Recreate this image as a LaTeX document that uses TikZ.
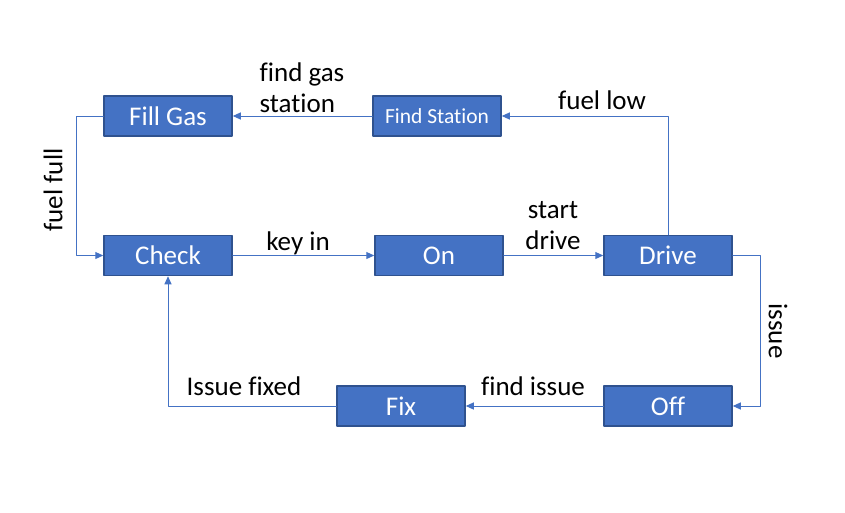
\documentclass[tikz,border=0pt]{standalone}
\usepackage{fontspec}
\setmainfont[RawFeature={-liga}]{Carlito}
\usetikzlibrary{arrows.meta}
\definecolor{fsmFill}{HTML}{4472C4}
\definecolor{fsmEdge}{HTML}{2F528F}
\definecolor{fsmLine}{HTML}{4472C4}
\tikzset{
  fsm diagram/.style={x=1pt, y=-1pt, font=\fontsize{27}{31}\selectfont,
    line cap=round, line join=round},
  fsm box/.style={draw=fsmEdge, fill=fsmFill, line width=1.5pt, text=white,
    minimum width=128pt, minimum height=40pt, inner sep=0pt, align=center},
  fsm arrow/.style={-{Triangle[length=8pt,width=7pt]}, draw=fsmLine, line width=1pt},
  fsm label/.style={align=center, inner sep=0pt}
}
\begin{document}
\begin{tikzpicture}[fsm diagram]
\useasboundingbox (0,0) rectangle (845,512);
% states
\node[fsm box] (fill) at (168,116) {Fill Gas};
\node[fsm box, font=\fontsize{21.5}{25}\selectfont] (find) at (437,116) {Find Station};
\node[fsm box] (check) at (168,255.5) {Check};
\node[fsm box] (on) at (439,255.5) {On};
\node[fsm box] (drive) at (668,255.5) {Drive};
\node[fsm box] (fix) at (401,406) {Fix};
\node[fsm box] (off) at (668,406) {Off};
% transitions
\draw[fsm arrow] (find) -- (fill);
\draw[fsm arrow] (drive.north) |- (find.east);
\draw[fsm arrow] (fill.west) -- ++(-27,0) |- (check.west);
\draw[fsm arrow] (check) -- (on);
\draw[fsm arrow] (on) -- (drive);
\draw[fsm arrow] (drive.east) -- ++(28,0) |- (off.east);
\draw[fsm arrow] (off) -- (fix);
\draw[fsm arrow] (fix.west) -| (check.south);
% labels
\node[fsm label, align=left] (lblgas) at (302,88) {find gas\\station};
\node[fsm label] (lbllow) at (602,100) {fuel low};
\node[fsm label, rotate=90] (lblfull) at (53,190) {fuel full};
\node[fsm label] (lblkey) at (298,243) {key in};
\node[fsm label] (lblstart) at (553,226) {start\\drive};
\node[fsm label, rotate=-90] (lblissue) at (778,331) {issue};
\node[fsm label] (lblfind) at (533,386) {find issue};
\node[fsm label] (lblfixed) at (244,386) {Issue fixed};
\end{tikzpicture}
\end{document}
